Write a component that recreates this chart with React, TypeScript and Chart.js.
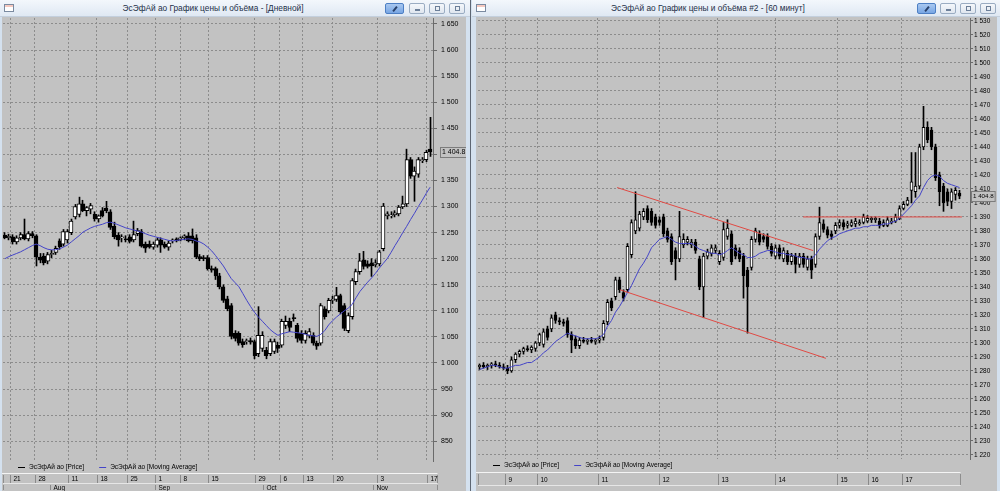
import React, { useEffect, useRef } from 'react';
import { Chart, registerables } from 'chart.js';
Chart.register(...registerables);

const FONT = '"Liberation Sans", Arial, sans-serif';
const MA_COLOR = '#4444c8';
const TREND_COLOR = '#e04a44';
const PLOT_BG = '#c2c2c2';

const L_TITLE = 'ЭсЭфАй ао График цены и объёма - [Дневной]';
const R_TITLE = 'ЭсЭфАй ао График цены и объёма #2 - [60 минут]';
const LEGEND_PRICE = 'ЭсЭфАй ао [Price]';
const LEGEND_MA = 'ЭсЭфАй ао [Moving Average]';

// ===== Left chart: daily candles =====
const L_OPEN = [1245,1240,1242,1232,1240,1246,1238,1248,1244,1203,
 1205,1195,1208,1212,1234,1228,1236,1250,1280,1285,
 1305,1292,1295,1285,1276,1292,1297,1290,1262,1245,
 1240,1238,1242,1236,1248,1252,1228,1228,1222,1226,
 1236,1228,1222,1234,1238,1236,1240,1244,1244,1240,
 1204,1202,1202,1181,1181,1167,1146,1123,1110,1057,
 1057,1041,1041,1043,1041,1018,1028,1024,1018,1022,
 1034,1034,1072,1080,1086,1072,1057,1043,1053,1053,
 1038,1038,1104,1100,1120,1122,1129,1110,1062,1089,
 1156,1175,1198,1190,1192,1188,1190,1219,1282,1282,
 1284,1286,1299,1305,1390,1358,1362,1388,1390,1410];
const L_HIGH = [1250,1247,1246,1244,1250,1276,1252,1252,1246,1210,
 1210,1212,1216,1224,1238,1256,1256,1276,1304,1318,
 1312,1300,1306,1290,1284,1298,1310,1294,1270,1250,
 1246,1244,1246,1272,1258,1256,1232,1234,1232,1240,
 1240,1232,1234,1238,1240,1242,1246,1250,1257,1246,
 1208,1206,1206,1186,1184,1172,1150,1128,1114,1062,
 1060,1046,1046,1048,1044,1108,1060,1030,1046,1046,
 1040,1084,1090,1086,1094,1076,1062,1062,1066,1058,
 1042,1114,1108,1124,1128,1145,1132,1114,1096,1162,
 1180,1210,1214,1196,1200,1198,1216,1306,1290,1290,
 1292,1302,1320,1410,1394,1376,1394,1394,1408,1471];
const L_LOW = [1238,1236,1228,1228,1236,1236,1234,1240,1186,1192,
 1188,1190,1202,1208,1218,1224,1230,1246,1276,1280,
 1290,1282,1286,1272,1270,1280,1288,1256,1238,1224,
 1232,1232,1230,1232,1244,1222,1212,1220,1218,1222,
 1212,1220,1216,1230,1232,1234,1236,1232,1230,1200,
 1196,1196,1178,1174,1160,1142,1116,1100,1046,1042,
 1034,1030,1036,1036,1008,1012,1022,1008,1014,1018,
 1020,1030,1066,1060,1080,1040,1038,1038,1048,1034,
 1026,1034,1084,1096,1114,1118,1094,1062,1058,1084,
 1150,1170,1180,1182,1166,1184,1186,1215,1276,1278,
 1280,1282,1296,1300,1354,1310,1356,1384,1386,1396];
const L_CLOSE = [1240,1243,1232,1240,1246,1238,1248,1244,1203,1197,
 1192,1208,1210,1220,1223,1252,1252,1272,1300,1305,
 1292,1298,1302,1276,1282,1282,1292,1260,1242,1236,
 1240,1236,1233,1246,1254,1224,1220,1222,1228,1236,
 1226,1222,1230,1236,1234,1240,1244,1234,1234,1203,
 1200,1200,1181,1178,1167,1146,1120,1104,1051,1047,
 1038,1035,1041,1040,1014,1053,1053,1014,1041,1041,
 1028,1080,1080,1068,1085,1047,1043,1057,1060,1038,
 1032,1110,1089,1120,1122,1129,1098,1066,1091,1158,
 1175,1196,1185,1185,1186,1192,1213,1301,1286,1284,
 1288,1299,1305,1390,1358,1368,1390,1390,1404,1404.8];
const L_MA = [1200,1204,1207,1210,1213,1217,1221,1225,1228,1225,
 1221,1218,1217,1217,1219,1222,1226,1232,1238,1244,
 1251,1255,1259,1262,1264,1266,1269,1270,1268,1265,
 1262,1259,1257,1255,1253,1251,1248,1245,1243,1241,
 1239,1237,1235,1234,1235,1236,1237,1238,1237,1234,
 1232,1228,1222,1215,1206,1196,1186,1174,1162,1154,
 1146,1133,1120,1108,1097,1088,1080,1072,1064,1058,
 1053,1056,1058,1060,1059,1058,1057,1055,1053,1052,
 1051,1055,1062,1073,1081,1088,1094,1100,1105,1112,
 1125,1137,1146,1155,1163,1172,1182,1191,1200,1212,
 1225,1237,1250,1262,1275,1287,1300,1312,1325,1337];
const L_DAY_POS = [1.3, 7.7, 16.2, 23.6, 31.3, 38.5, 44.9, 52.1, 64.1, 70.5, 76.4, 84.1, 95.4, 108.2];
const L_DAY_LABELS = ['21','28','11','18','25','1','8','15','29','6','13','20','3','17'];
const L_MONTH_POS = [11.5, 38.5, 66.1, 94.4];
const L_MONTH_LABELS = ['Aug','Sep','Oct','Nov'];
const L_Y_TICKS = [850,900,950,1000,1050,1100,1150,1200,1250,1300,1350,1400,1450,1500,1550,1600,1650];

// ===== Right chart: 60-minute candles =====
const R_OPEN = [1283,1284,1283,1284,1285,1284,1283,1282,1280,1288,
 1292,1294,1296,1295,1296,1300,1299,1310,1310,1320,
 1316,1315,1316,1306,1303,1298,1302,1301,1302,1301,
 1302,1304,1315,1330,1333,1345,1336,1338,1363,1380,
 1382,1390,1396,1394,1390,1388,1390,1380,1376,1366,
 1360,1370,1372,1370,1372,1360,1340,1362,1364,1366,
 1358,1361,1376,1378,1368,1366,1362,1352,1354,1374,
 1378,1376,1376,1369,1362,1368,1360,1364,1358,1362,
 1356,1362,1354,1360,1356,1376,1385,1381,1378,1380,
 1384,1386,1384,1384,1385,1385,1386,1387,1388,1388,
 1387,1384,1384,1386,1387,1389,1396,1399,1409,1408,
 1412,1440,1454,1452,1440,1420,1412,1408,1401,1406,1407];
const R_HIGH = [1285,1286,1285,1286,1287,1286,1285,1284,1290,1293,
 1295,1297,1298,1298,1301,1307,1310,1312,1320,1322,
 1318,1317,1318,1308,1305,1304,1304,1303,1304,1303,
 1305,1316,1331,1332,1347,1347,1338,1371,1388,1408,
 1394,1396,1398,1396,1392,1390,1392,1382,1378,1368,
 1394,1378,1376,1374,1374,1362,1364,1367,1370,1370,
 1366,1386,1388,1380,1370,1368,1364,1354,1376,1382,
 1380,1378,1378,1371,1370,1370,1368,1366,1364,1364,
 1364,1364,1362,1362,1378,1397,1388,1383,1380,1386,
 1388,1388,1387,1388,1389,1388,1392,1391,1390,1390,
 1389,1388,1390,1389,1392,1398,1401,1404,1436,1436,
 1442,1469,1458,1454,1442,1422,1414,1410,1410,1411,1409];
const R_LOW = [1281,1282,1281,1282,1283,1282,1281,1278,1279,1286,
 1290,1292,1294,1293,1294,1298,1297,1302,1308,1314,
 1313,1312,1304,1293,1296,1296,1300,1299,1300,1299,
 1300,1302,1313,1323,1331,1336,1330,1336,1361,1378,
 1380,1388,1386,1384,1382,1384,1376,1372,1356,1345,
 1358,1368,1370,1368,1364,1338,1318,1360,1362,1364,
 1356,1359,1374,1356,1360,1358,1332,1307,1352,1372,
 1370,1372,1367,1362,1360,1360,1358,1356,1356,1350,
 1354,1354,1352,1346,1354,1374,1379,1375,1374,1378,
 1382,1381,1382,1383,1383,1384,1385,1386,1386,1386,
 1382,1383,1383,1385,1386,1388,1395,1398,1400,1404,
 1410,1438,1443,1438,1416,1398,1394,1398,1396,1402,1403];
const R_CLOSE = [1284,1283,1284,1285,1284,1283,1282,1280,1288,1292,
 1294,1296,1295,1297,1300,1306,1308,1304,1318,1316,
 1315,1314,1306,1302,1298,1302,1301,1302,1301,1302,
 1303,1314,1329,1325,1345,1338,1332,1369,1386,1388,
 1392,1394,1388,1386,1384,1386,1378,1374,1358,1360,
 1376,1374,1374,1372,1366,1340,1362,1365,1368,1368,
 1364,1381,1382,1358,1362,1360,1348,1340,1374,1380,
 1372,1374,1369,1364,1368,1362,1366,1358,1362,1356,
 1362,1356,1360,1352,1376,1386,1381,1377,1376,1384,
 1386,1383,1385,1386,1387,1386,1390,1389,1389,1389,
 1384,1386,1388,1387,1390,1396,1399,1402,1415,1412,
 1440,1454,1445,1440,1418,1408,1400,1401,1408,1409,1404.8];
const R_MA = [1281,1282,1283,1284,1284,1283,1282,1282,1283,1284,
 1284,1285,1286,1286,1288,1290,1293,1295,1298,1301,
 1303,1305,1307,1306,1305,1304,1303,1303,1303,1303,
 1304,1306,1312,1316,1322,1326,1331,1336,1341,1347,
 1353,1357,1362,1368,1371,1374,1375,1376,1374,1372,
 1371,1371,1371,1371,1369,1367,1366,1365,1364,1364,
 1363,1364,1366,1368,1366,1364,1363,1361,1361,1362,
 1364,1365,1366,1366,1365,1364,1364,1363,1363,1362,
 1361,1361,1360,1360,1363,1367,1370,1373,1375,1376,
 1378,1379,1380,1381,1382,1382,1383,1383,1384,1384,
 1384,1385,1385,1386,1387,1389,1392,1395,1398,1402,
 1405,1411,1416,1419,1420,1419,1416,1414,1413,1412,1411];
const R_DAY_POS = [6.4, 14.4, 29.6, 44.9, 59.6, 73.9, 89.4, 97.1, 105.6];
const R_DAY_LABELS = ['9','10','11','12','13','14','15','16','17'];
const R_Y_TICKS = [1220,1230,1240,1250,1260,1270,1280,1290,1300,1310,1320,1330,1340,1350,1360,1370,1380,1390,1400,1410,1420,1430,1440,1450,1460,1470,1480,1490,1500,1510,1520,1530];
// hand-drawn trend lines: [candle index, price] end points
const R_CHANNEL_TOP = [[34.4, 1411], [83.4, 1366]];
const R_CHANNEL_BOTTOM = [[35.1, 1338], [86.6, 1289]];
const R_RESISTANCE = [[80.9, 1390], [120.6, 1390]];

function fmtTick(v: number) {
  if (v < 1000) return String(v);
  return Math.floor(v / 1000) + ' ' + String(Math.round(v % 1000)).padStart(3, '0');
}
function fmtPrice(v: number) {
  const r = v % 1000;
  return Math.floor(v / 1000) + ' ' + r.toFixed(1).padStart(5, '0');
}

type ChartProps = {
  open: number[]; high: number[]; low: number[]; close: number[]; ma: number[];
  yTicks: number[]; yMin: number; yMax: number; xMin: number; xMax: number;
  dayPos: number[]; dayLabels: string[]; monthPos?: number[]; monthLabels?: string[];
  lines?: number[][][];
  width: number; height: number; axisW: number; padLeft: number; bottomPad: number;
  legendX: number; legendDy: number; sepDy: number; dayH: number; monthH: number;
  tickLen: number; tickPad: number; tickFont: number; boxFont: number; boxDx: number;
  stripRight: number; bodyW: number;
};

function CandleChart(p: ChartProps) {
  const ref = useRef<HTMLCanvasElement>(null);
  useEffect(() => {
    const idx = p.open.map((_, i) => i);
    const datasets: any[] = [
      {
        type: 'line', label: 'ma', order: 0,
        data: idx.map(i => ({ x: i, y: p.ma[i] })),
        borderColor: MA_COLOR, borderWidth: 1, pointRadius: 0, tension: 0,
      },
      {
        type: 'bar', label: 'body', order: 1, grouped: false,
        data: idx.map(i => ({ x: i, y: [p.open[i], p.close[i]] })),
        backgroundColor: idx.map(i => (p.close[i] >= p.open[i] ? '#ffffff' : '#000000')),
        borderColor: '#000000', borderWidth: 1, borderSkipped: false,
        barThickness: p.bodyW, minBarLength: 1,
      },
      {
        type: 'bar', label: 'wick', order: 2, grouped: false,
        data: idx.map(i => ({ x: i, y: [p.low[i], p.high[i]] })),
        backgroundColor: '#000000', borderWidth: 0, barThickness: 1,
      },
    ];
    (p.lines || []).forEach((seg) => {
      datasets.push({
        type: 'line', label: 'trend', order: -1,
        data: seg.map(([x, y]) => ({ x, y })),
        borderColor: TREND_COLOR, borderWidth: 1, pointRadius: 0,
      });
    });

    // pixel-snap candle bodies and wicks so they stay crisp
    const snap = {
      id: 'snap',
      beforeDatasetsDraw(chart: any) {
        chart.data.datasets.forEach((ds: any, di: number) => {
          if (ds.type !== 'bar') return;
          const w = ds.barThickness;
          chart.getDatasetMeta(di).data.forEach((el: any) => {
            if (el.$snapped) return;
            el.x = w % 2 === 1 ? Math.floor(el.x) + 0.5 : Math.round(el.x);
            el.$snapped = true;
          });
        });
      },
    };

    const strip = {
      id: 'strip',
      afterDraw(chart: any) {
        const ctx = chart.ctx;
        const ca = chart.chartArea;
        const xs = chart.scales.x;
        const ys = chart.scales.y;
        ctx.save();
        ctx.textBaseline = 'middle';
        ctx.textAlign = 'left';
        // last price box on the axis
        ctx.font = `${p.boxFont}px ${FONT}`;
        const last = p.close[p.close.length - 1];
        const yy = Math.round(ys.getPixelForValue(last));
        const txt = fmtPrice(last);
        const tw = ctx.measureText(txt).width;
        const bx = Math.round(ca.right + p.boxDx);
        ctx.fillStyle = PLOT_BG;
        ctx.fillRect(bx, yy - 5, tw + 4, 11);
        ctx.strokeStyle = '#7c7c7c';
        ctx.lineWidth = 1;
        ctx.strokeRect(bx + 0.5, yy - 4.5, tw + 3, 10);
        ctx.fillStyle = '#000';
        ctx.fillText(txt, bx + 2, yy + 0.5);
        // legend
        ctx.font = `6.5px ${FONT}`;
        let lx = p.legendX;
        const ly = Math.round(ca.bottom + p.legendDy) + 0.5;
        const items: [string, string][] = [[LEGEND_PRICE, '#000000'], [LEGEND_MA, MA_COLOR]];
        for (const [t, c] of items) {
          ctx.strokeStyle = c;
          ctx.beginPath(); ctx.moveTo(lx, ly); ctx.lineTo(lx + 7, ly); ctx.stroke();
          ctx.fillStyle = '#000';
          ctx.fillText(t, lx + 11, ly);
          lx += 11 + ctx.measureText(t).width + 15;
        }
        // separator
        const sy = Math.round(ca.bottom + p.sepDy) + 0.5;
        const stripRight = p.stripRight + 0.5;
        ctx.strokeStyle = '#f4f4f4';
        ctx.beginPath(); ctx.moveTo(0, sy); ctx.lineTo(stripRight, sy); ctx.stroke();
        // date rows
        const rows: { pos: number[]; labels: string[]; top: number; h: number }[] = [
          { pos: p.dayPos, labels: p.dayLabels, top: sy + 0.5, h: p.dayH },
        ];
        if (p.monthPos && p.monthLabels && p.monthH > 0) {
          rows.push({ pos: p.monthPos, labels: p.monthLabels, top: sy + 0.5 + p.dayH, h: p.monthH });
        }
        rows.forEach((r, ri) => {
          ctx.strokeStyle = '#8e8e8e';
          const edges = [Math.round(ca.left) + 0.5, stripRight];
          for (const ex of edges) {
            ctx.beginPath(); ctx.moveTo(ex, r.top + 1); ctx.lineTo(ex, r.top + r.h - 1); ctx.stroke();
          }
          r.pos.forEach((v, i) => {
            const x = Math.round(xs.getPixelForValue(v)) + 0.5;
            ctx.strokeStyle = '#8a8a8a';
            ctx.beginPath(); ctx.moveTo(x, r.top + 1); ctx.lineTo(x, r.top + r.h - 1); ctx.stroke();
            ctx.fillStyle = '#000';
            ctx.fillText(r.labels[i], x + 3, r.top + r.h / 2 + 0.5);
          });
          if (ri === 0) {
            const by = Math.round(r.top + r.h) - 0.5;
            ctx.strokeStyle = '#e6e6e6';
            ctx.beginPath(); ctx.moveTo(Math.round(ca.left), by); ctx.lineTo(stripRight, by); ctx.stroke();
          }
        });
        ctx.restore();
      },
    };

    const chart = new Chart(ref.current as HTMLCanvasElement, {
      type: 'bar',
      data: { datasets },
      options: {
        animation: false,
        responsive: false,
        maintainAspectRatio: false,
        devicePixelRatio: 1,
        events: [],
        layout: { padding: { left: p.padLeft, right: 0, top: 0, bottom: p.bottomPad } },
        plugins: { legend: { display: false }, tooltip: { enabled: false } },
        scales: {
          x: {
            type: 'linear', min: p.xMin, max: p.xMax, offset: false, display: true,
            afterBuildTicks: (s: any) => { s.ticks = p.dayPos.map(v => ({ value: v })); },
            ticks: { display: false },
            grid: { color: '#8c8c8c', drawTicks: false, offset: false, lineWidth: 1 },
            border: { display: false, dash: [2, 2] },
            afterFit: (s: any) => { s.height = 0; s.paddingLeft = 0; s.paddingRight = 0; },
          },
          y: {
            type: 'linear', position: 'right', min: p.yMin, max: p.yMax, beginAtZero: false,
            afterBuildTicks: (s: any) => { s.ticks = p.yTicks.map(v => ({ value: v })); },
            ticks: {
              color: '#000', padding: p.tickPad, autoSkip: false,
              font: { size: p.tickFont, family: FONT },
              callback: (v: any) => fmtTick(Number(v)),
            },
            grid: { color: '#8c8c8c', drawTicks: true, tickLength: p.tickLen, tickColor: '#6a6a6a' },
            border: { display: true, color: '#6a6a6a', dash: [2, 2] },
            afterFit: (s: any) => { s.width = p.axisW; s.paddingTop = 0; s.paddingBottom = 0; },
          },
        },
      } as any,
      plugins: [snap, strip],
    });
    return () => chart.destroy();
  }, []);
  return (
    <canvas
      ref={ref}
      width={p.width}
      height={p.height}
      style={{ display: 'block', width: p.width, height: p.height }}
    />
  );
}

function TitleBar({ x, w, title, center, pinX, btnX }: { x: number; w: number; title: string; center: number; pinX: number; btnX: number[] }) {
  const btn = (bx: number, k: number) => (
    <div key={k} style={{
      position: 'absolute', left: bx - x, top: 3, width: 16, height: 11, boxSizing: 'border-box',
      border: '1px solid #9aacc2', borderRadius: 2, background: 'linear-gradient(#f4f7fb,#dfe6ef)',
    }}>
      <div style={{
        position: 'absolute', left: 5, top: k === 0 ? 5 : 2, width: 5, height: k === 0 ? 2 : 5,
        border: '1px solid #6c7f99', boxSizing: 'border-box',
      }} />
    </div>
  );
  return (
    <div style={{
      position: 'absolute', left: x, top: 0, width: w, height: 17,
      background: 'linear-gradient(#f3f7fc,#dfe8f3)', borderBottom: '1px solid #c3cfdd', boxSizing: 'border-box',
    }}>
      <div style={{
        position: 'absolute', left: 4, top: 4, width: 10, height: 8, boxSizing: 'border-box',
        border: '1px solid #7a8aa0', background: 'linear-gradient(#f6c9c0 0 35%, #ffffff 35%)',
      }} />
      <div style={{
        position: 'absolute', left: center - x - 150, top: 0, width: 300, height: 17, lineHeight: '17px', textAlign: 'center',
        fontSize: 8.3, color: '#1d2f47', fontFamily: FONT, whiteSpace: 'nowrap',
      }}>{title}</div>
      <div style={{
        position: 'absolute', left: pinX - x, top: 3, width: 19, height: 11, boxSizing: 'border-box',
        border: '1px solid #4d7fc4', borderRadius: 2, background: 'linear-gradient(#a9c8f0,#78a6e4)',
      }}>
        <div style={{
          position: 'absolute', left: 8, top: 2, width: 2, height: 6, background: '#27406a', transform: 'rotate(40deg)',
        }} />
      </div>
      {btnX.map((b, k) => btn(b, k))}
    </div>
  );
}

export default function App() {
  useEffect(() => { document.body.style.margin = '0'; }, []);
  return (
    <div style={{ position: 'relative', width: 1000, height: 491, overflow: 'hidden', background: '#d4e1ef', fontFamily: FONT }}>
      <TitleBar x={0} w={470} title={L_TITLE} center={213} pinX={385} btnX={[409, 429, 449]} />
      <div style={{ position: 'absolute', left: 2, top: 17, width: 464, height: 474, background: PLOT_BG }}>
        <div style={{ position: 'absolute', left: 0, top: 1 }}>
          <CandleChart
            open={L_OPEN} high={L_HIGH} low={L_LOW} close={L_CLOSE} ma={L_MA}
            yTicks={L_Y_TICKS} yMin={812} yMax={1661.5} xMin={-0.5} xMax={109.75}
            dayPos={L_DAY_POS} dayLabels={L_DAY_LABELS} monthPos={L_MONTH_POS} monthLabels={L_MONTH_LABELS}
            width={464} height={473} axisW={33} padLeft={1} bottomPad={30}
            legendX={16} legendDy={6} sepDy={12} dayH={10} monthH={7}
            tickLen={4} tickPad={4} tickFont={7} boxFont={7} boxDx={7} stripRight={435} bodyW={4}
          />
        </div>
      </div>
      <div style={{ position: 'absolute', left: 470, top: 0, width: 1, height: 491, background: '#5d6673' }} />
      <TitleBar x={472} w={528} title={R_TITLE} center={708} pinX={917} btnX={[940, 960, 980]} />
      <div style={{ position: 'absolute', left: 476, top: 17, width: 521, height: 474, background: PLOT_BG }}>
        <div style={{ position: 'absolute', left: 0, top: 1 }}>
          <CandleChart
            open={R_OPEN} high={R_HIGH} low={R_LOW} close={R_CLOSE} ma={R_MA}
            yTicks={R_Y_TICKS} yMin={1217.1} yMax={1532.1} xMin={-0.375} xMax={122.625}
            dayPos={R_DAY_POS} dayLabels={R_DAY_LABELS}
            lines={[R_CHANNEL_TOP, R_CHANNEL_BOTTOM, R_RESISTANCE]}
            width={521} height={473} axisW={27} padLeft={2} bottomPad={32}
            legendX={17} legendDy={6} sepDy={13} dayH={13} monthH={0}
            tickLen={3} tickPad={1} tickFont={6.5} boxFont={6.2} boxDx={1} stripRight={484} bodyW={3}
          />
        </div>
      </div>
    </div>
  );
}
